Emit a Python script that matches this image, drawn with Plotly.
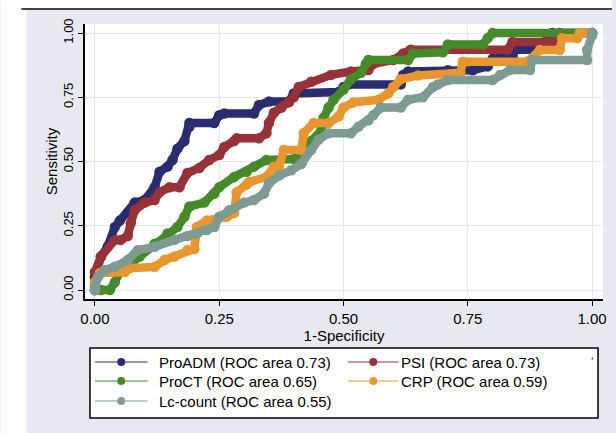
import plotly.graph_objects as go

# ---- ROC curves (1-Specificity, Sensitivity) ----
names = ["ProADM (ROC area 0.73)", "PSI (ROC area 0.73)", "ProCT (ROC area 0.65)",
         "CRP (ROC area 0.59)", "Lc-count (ROC area 0.55)"]
colors = ["#2b2b70", "#963238", "#468a2a", "#e8962f", "#7d9b92"]

proadm_x = [0, 0, 0.012, 0.026, 0.04, 0.05, 0.066, 0.08, 0.10, 0.12, 0.13, 0.146, 0.156, 0.166,
            0.18, 0.19, 0.19, 0.24, 0.25, 0.26, 0.32, 0.33, 0.35, 0.39, 0.40, 0.49, 0.50, 0.51,
            0.615, 0.62, 0.63, 0.71, 0.76, 0.79, 0.80, 0.84, 0.845, 0.895, 0.905, 0.92, 1.0]
proadm_y = [0, 0.05, 0.13, 0.17, 0.245, 0.27, 0.30, 0.34, 0.35, 0.40, 0.46, 0.48, 0.506, 0.55,
            0.58, 0.635, 0.65, 0.65, 0.68, 0.687, 0.687, 0.72, 0.733, 0.733, 0.765, 0.77, 0.79, 0.80,
            0.80, 0.837, 0.85, 0.855, 0.855, 0.87, 0.90, 0.905, 0.935, 0.935, 0.965, 1.0, 1.0]

psi_x = [0, 0, 0.012, 0.04, 0.052, 0.066, 0.072, 0.08, 0.10, 0.12, 0.13, 0.15, 0.17, 0.186,
         0.21, 0.23, 0.25, 0.26, 0.28, 0.285, 0.33, 0.345, 0.35, 0.36, 0.375, 0.39, 0.40, 0.41,
         0.435, 0.475, 0.515, 0.55, 0.56, 0.60, 0.62, 0.635, 0.83, 0.84, 0.92, 0.935, 1.0]
psi_y = [0, 0.07, 0.13, 0.195, 0.195, 0.21, 0.26, 0.31, 0.34, 0.35, 0.38, 0.40, 0.40, 0.455,
         0.475, 0.506, 0.525, 0.556, 0.58, 0.59, 0.59, 0.61, 0.65, 0.69, 0.71, 0.73, 0.75, 0.79,
         0.81, 0.837, 0.85, 0.856, 0.88, 0.895, 0.92, 0.935, 0.935, 0.965, 0.965, 1.0, 1.0]

proct_x = [0, 0.012, 0.03, 0.04, 0.05, 0.07, 0.09, 0.12, 0.146, 0.166, 0.18, 0.19, 0.22, 0.24,
           0.25, 0.28, 0.305, 0.32, 0.345, 0.40, 0.43, 0.435, 0.455, 0.46, 0.47, 0.48, 0.50,
           0.515, 0.535, 0.545, 0.55, 0.63, 0.64, 0.70, 0.71, 0.78, 0.79, 0.80, 1.0]
proct_y = [0, 0, 0, 0.03, 0.07, 0.10, 0.13, 0.18, 0.22, 0.245, 0.285, 0.325, 0.34, 0.375,
           0.40, 0.44, 0.46, 0.48, 0.506, 0.51, 0.545, 0.58, 0.62, 0.67, 0.71, 0.74, 0.78,
           0.82, 0.845, 0.88, 0.895, 0.895, 0.92, 0.925, 0.955, 0.955, 0.98, 1.0, 1.0]

crp_x = [0, 0, 0.01, 0.06, 0.07, 0.12, 0.14, 0.16, 0.186, 0.20, 0.205, 0.225, 0.265, 0.28,
         0.285, 0.305, 0.31, 0.345, 0.36, 0.37, 0.38, 0.415, 0.42, 0.44, 0.47, 0.49, 0.50, 0.52,
         0.57, 0.59, 0.60, 0.615, 0.65, 0.735, 0.74, 0.87, 0.895, 0.935, 0.94, 0.97, 0.975, 1.0]
crp_y = [0, 0.03, 0.066, 0.07, 0.085, 0.09, 0.117, 0.13, 0.155, 0.16, 0.245, 0.27, 0.285, 0.30,
         0.38, 0.41, 0.42, 0.44, 0.48, 0.48, 0.545, 0.545, 0.61, 0.65, 0.65, 0.675, 0.71, 0.73,
         0.74, 0.765, 0.79, 0.82, 0.835, 0.845, 0.888, 0.888, 0.934, 0.934, 0.98, 0.98, 1.0, 1.0]

lc_x = [0, 0, 0.006, 0.02, 0.04, 0.066, 0.086, 0.12, 0.16, 0.186, 0.205, 0.225, 0.24, 0.25,
        0.27, 0.30, 0.32, 0.34, 0.35, 0.37, 0.395, 0.415, 0.435, 0.45, 0.47, 0.515, 0.53, 0.55,
        0.56, 0.575, 0.615, 0.63, 0.66, 0.68, 0.69, 0.71, 0.80, 0.815, 0.835, 0.875, 0.88, 0.99,
        0.99, 1.0, 1.0]
lc_y = [0, 0.01, 0.05, 0.078, 0.09, 0.117, 0.155, 0.168, 0.195, 0.21, 0.22, 0.233, 0.245, 0.285,
        0.31, 0.34, 0.35, 0.375, 0.415, 0.445, 0.466, 0.49, 0.545, 0.585, 0.61, 0.61, 0.635, 0.66,
        0.68, 0.71, 0.71, 0.74, 0.75, 0.79, 0.80, 0.817, 0.817, 0.837, 0.856, 0.856, 0.895, 0.895,
        0.934, 0.99, 1.0]

series_x = [proadm_x, psi_x, proct_x, crp_x, lc_x]
series_y = [proadm_y, psi_y, proct_y, crp_y, lc_y]

tick_vals = [0, 0.25, 0.5, 0.75, 1.0]
tick_text = ["0.00", "0.25", "0.50", "0.75", "1.00"]

W, H = 616, 433
L, R, T, B = 85, 9, 24, 134
PW, PH = W - L - R, H - T - B

def px(x):
    return (x - L) / PW

def py(y):
    return (H - B - y) / PH

FONT = "Arial, Liberation Sans, sans-serif"

fig = go.Figure()
for nm, c, xs, ys in zip(names, colors, series_x, series_y):
    fig.add_trace(go.Scatter(
        x=xs, y=ys, name=nm, mode="lines+markers", showlegend=False,
        line=dict(color=c, width=8.5),
        marker=dict(color=c, size=10.5, line=dict(width=0)),
        hoverinfo="x+y+name",
    ))

shapes = [
    # white margins above and left of the grey panel
    dict(type="rect", xref="paper", yref="paper", x0=px(0), x1=px(W), y0=py(0), y1=py(10),
         fillcolor="white", line=dict(width=0), layer="below"),
    dict(type="rect", xref="paper", yref="paper", x0=px(0), x1=px(26), y0=py(0), y1=py(H),
         fillcolor="white", line=dict(width=0), layer="below"),
    dict(type="line", xref="paper", yref="paper", x0=px(21), x1=px(W), y0=py(9), y1=py(9),
         line=dict(color="black", width=1.5)),
    # legend box
    dict(type="rect", xref="paper", yref="paper", x0=px(90), x1=px(602), y0=py(348), y1=py(418),
         fillcolor="white", line=dict(color="black", width=1.5)),
    dict(type="rect", xref="paper", yref="paper", x0=px(595.5), x1=px(597), y0=py(357.5), y1=py(359.5),
         fillcolor="#555555", line=dict(width=0)),
]
annotations = []

# legend entries: (column line start, line end, text start, row centre)
legend_pos = [
    (95, 148, 158, 362),
    (350, 401, 401, 362),
    (95, 148, 158, 381),
    (350, 401, 401, 381),
    (95, 148, 158, 401),
]
for nm, c, (lx0, lx1, tx, ry) in zip(names, colors, legend_pos):
    shapes.append(dict(type="line", xref="paper", yref="paper", x0=px(lx0), x1=px(lx1),
                       y0=py(ry), y1=py(ry), line=dict(color=c, width=1.2)))
    mx = (lx0 + lx1) / 2
    shapes.append(dict(type="circle", xref="paper", yref="paper", x0=px(mx - 4), x1=px(mx + 4),
                       y0=py(ry + 4), y1=py(ry - 4), fillcolor=c, line=dict(width=0)))
    annotations.append(dict(xref="paper", yref="paper", x=px(tx), y=py(ry), text=nm,
                            showarrow=False, xanchor="left", yanchor="middle",
                            font=dict(family=FONT, size=15, color="black")))

fig.update_layout(
    width=W, height=H, autosize=False,
    margin=dict(l=L, r=R, t=T, b=B, pad=0),
    paper_bgcolor="#e8e8f0",
    plot_bgcolor="white",
    font=dict(family=FONT, size=15, color="black"),
    shapes=shapes,
    annotations=annotations,
    showlegend=False,
    xaxis=dict(
        range=[-0.02, 1.022], tickvals=tick_vals, ticktext=tick_text,
        showgrid=True, gridcolor="#e6e6ea", gridwidth=1, zeroline=False,
        showline=True, linecolor="black", linewidth=1.5,
        ticks="outside", ticklen=5, tickwidth=1.2, tickcolor="black",
        tickfont=dict(family=FONT, size=15, color="black"),
        title=dict(text="1-Specificity", font=dict(family=FONT, size=15), standoff=0),
    ),
    yaxis=dict(
        range=[-0.035, 1.035], tickvals=tick_vals, ticktext=tick_text, tickangle=-90,
        showgrid=True, gridcolor="#e6e6ea", gridwidth=1, zeroline=False,
        showline=True, linecolor="black", linewidth=1.5,
        ticks="outside", ticklen=5, tickwidth=1.2, tickcolor="black",
        tickfont=dict(family=FONT, size=13, color="black"),
        title=dict(text="Sensitivity", font=dict(family=FONT, size=15), standoff=0),
    ),
)

fig.write_html("out.html")
